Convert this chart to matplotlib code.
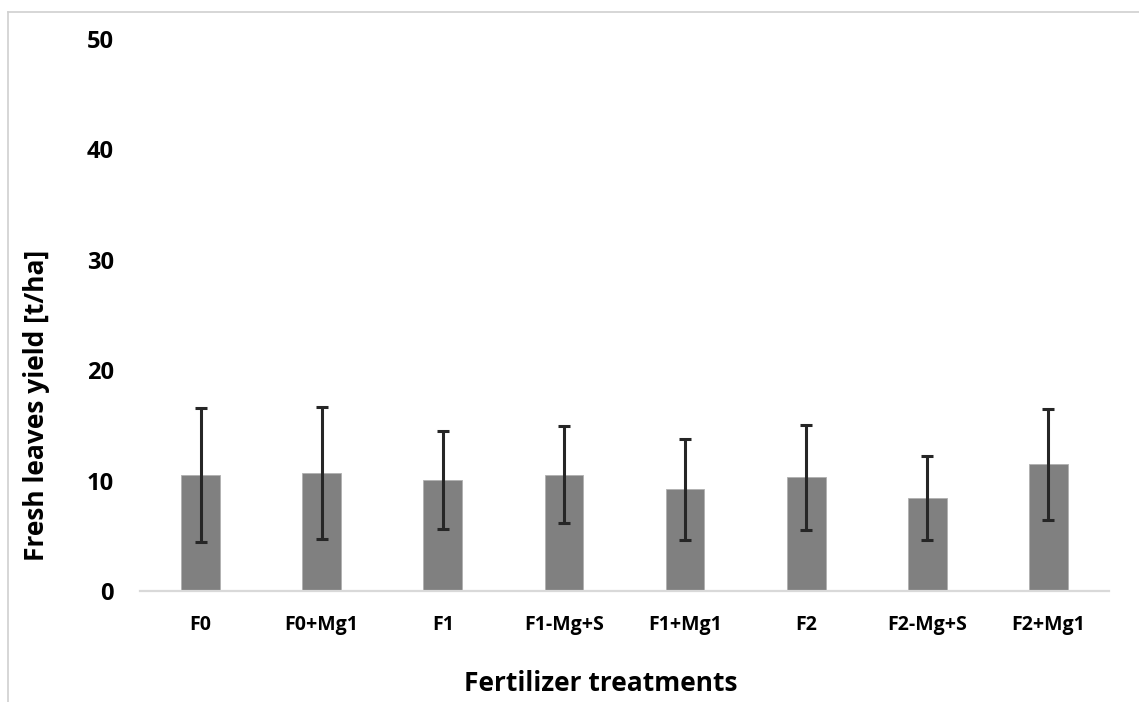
import numpy as np
import matplotlib.pyplot as plt
from matplotlib.lines import Line2D

# data
treatments = ['F0', 'F0+Mg1', 'F1', 'F1-Mg+S', 'F1+Mg1', 'F2', 'F2-Mg+S', 'F2+Mg1']
yield_mean = [10.5, 10.7, 10.05, 10.55, 9.2, 10.3, 8.45, 11.5]
yield_err = [6.05, 5.97, 4.47, 4.38, 4.57, 4.77, 3.82, 5.03]

W, H = 1139, 702
fig = plt.figure(figsize=(W / 100, H / 100), dpi=100)
ax = fig.add_axes([140 / W, 1 - 591 / H, 969 / W, (591 - 39) / H])

x = np.arange(len(treatments))
ax.bar(x, yield_mean, width=0.32, color='#808080', edgecolor='#b0b0b0', linewidth=0.6, zorder=2)
ax.errorbar(x, yield_mean, yerr=yield_err, fmt='none', ecolor='#262626',
            elinewidth=2.2, capsize=4, capthick=2.2, zorder=3)

ax.set_xlim(-0.5, len(treatments) - 0.5)
ax.set_ylim(0, 50)
ax.set_yticks([0, 10, 20, 30, 40, 50])
ax.set_xticks(x)
ax.set_xticklabels(treatments)

for s in ['top', 'right', 'left']:
    ax.spines[s].set_visible(False)
ax.spines['bottom'].set_color('#d9d9d9')
ax.spines['bottom'].set_linewidth(1.6)
ax.tick_params(axis='both', length=0)
ax.tick_params(axis='y', pad=19)
ax.tick_params(axis='x', pad=17)

for lab in ax.get_yticklabels():
    lab.set_fontfamily('Open Sans')
    lab.set_fontweight('bold')
    lab.set_fontsize(17)
for lab in ax.get_xticklabels():
    lab.set_fontfamily('Open Sans')
    lab.set_fontweight('bold')
    lab.set_fontsize(14)

ax.set_ylabel('Fresh leaves yield [t/ha]', fontfamily='Open Sans', fontweight='bold',
              fontsize=19)
ax.yaxis.set_label_coords(-0.107, 0.337)
ax.set_xlabel('Fertilizer treatments', fontfamily='Open Sans', fontweight='bold',
              fontsize=19)
ax.xaxis.set_label_coords(0.475, -0.168)
ax.xaxis.label.set_va('center')
ax.yaxis.label.set_va('center')

# light frame on the left and top like the original export
fig.add_artist(Line2D([8 / W, 8 / W], [0, 1 - 12 / H], transform=fig.transFigure,
                      color='#d0d0d0', linewidth=1.2))
fig.add_artist(Line2D([8 / W, 1], [1 - 12 / H, 1 - 12 / H], transform=fig.transFigure,
                      color='#d0d0d0', linewidth=1.2))

fig.savefig('out.png', dpi=100)
